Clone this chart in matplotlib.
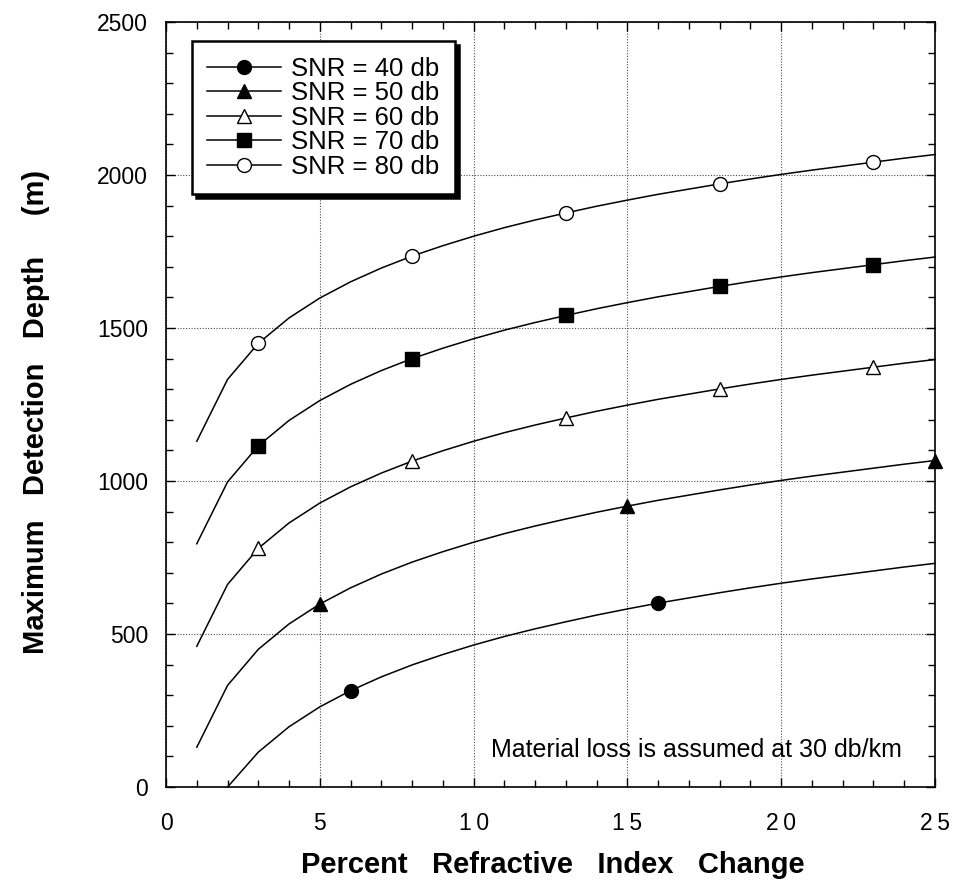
import matplotlib
matplotlib.use("Agg")
import matplotlib.pyplot as plt
from matplotlib.ticker import MultipleLocator

plt.rcParams["font.family"] = ["Liberation Sans", "DejaVu Sans"]

# ── data (depth in m at each whole % step) ─────────────────────────────────────
X_FULL = list(range(1, 26))
X_40 = list(range(2, 26))

SNR_40 = [0, 114, 197, 262, 315, 360, 399, 433, 464, 492, 517, 540, 562,
          582, 601, 618, 635, 651, 666, 680, 693, 706, 719, 731]
SNR_50 = [130, 332, 450, 533, 598, 651, 696, 735, 769, 800, 828, 853, 876,
          898, 918, 937, 954, 971, 987, 1002, 1016, 1029, 1042, 1055, 1067]
SNR_60 = [460, 662, 780, 863, 928, 981, 1026, 1065, 1099, 1130, 1158, 1183,
          1206, 1228, 1248, 1267, 1284, 1301, 1317, 1332, 1346, 1359, 1372,
          1385, 1397]
SNR_70 = [795, 997, 1115, 1198, 1263, 1316, 1361, 1400, 1434, 1465, 1493,
          1518, 1541, 1563, 1583, 1602, 1619, 1636, 1652, 1667, 1681, 1694,
          1707, 1720, 1732]
SNR_80 = [1130, 1332, 1450, 1533, 1598, 1651, 1696, 1735, 1769, 1800, 1828,
          1853, 1876, 1898, 1918, 1937, 1954, 1971, 1987, 2002, 2016, 2029,
          2042, 2055, 2067]

LABELS = ["SNR = 40 db", "SNR = 50 db", "SNR = 60 db", "SNR = 70 db", "SNR = 80 db"]
MARK_AT = [[6, 16], [5, 15, 25], [3, 8, 13, 18, 23], [3, 8, 13, 18, 23],
           [3, 8, 13, 18, 23]]
X_TICKS = [0, 5, 10, 15, 20, 25]
Y_TICKS = [0, 500, 1000, 1500, 2000, 2500]

NOTE = "Material loss is assumed at 30 db/km"


def track(s, sep="\u2009"):
    """spread characters a little, like the original typesetting"""
    return sep.join(s)


fig = plt.figure(figsize=(9.58, 8.84), dpi=100)
ax = fig.add_axes([0.1733, 0.1097, 0.8027, 0.8654])

series = [(X_40, SNR_40, "o", "black"),
          (X_FULL, SNR_50, "^", "black"),
          (X_FULL, SNR_60, "^", "white"),
          (X_FULL, SNR_70, "s", "black"),
          (X_FULL, SNR_80, "o", "white")]

for (xs, ys, mk, fc), lab, marks in zip(series, LABELS, MARK_AT):
    ax.plot(xs, ys, color="black", lw=1.1, marker=mk, ms=10,
            mfc=fc, mec="black", mew=1.0,
            markevery=[xs.index(m) for m in marks],
            label=lab, clip_on=False, zorder=3)

ax.set_xlim(0, 25)
ax.set_ylim(0, 2500)
ax.set_xticks(X_TICKS)
ax.set_xticklabels([track(str(v)) for v in X_TICKS])
ax.set_yticks(Y_TICKS)
ax.set_yticklabels([str(v) for v in Y_TICKS])
ax.xaxis.set_minor_locator(MultipleLocator(1))
ax.yaxis.set_minor_locator(MultipleLocator(100))

ax.tick_params(which="both", direction="in", top=True, right=True,
               color="black", width=1.0)
ax.tick_params(which="major", length=6.5)
ax.tick_params(which="minor", length=5)
ax.tick_params(axis="x", which="major", labelsize=16.5, pad=18)
ax.tick_params(axis="y", which="major", labelsize=16.5, pad=13)
for sp in ax.spines.values():
    sp.set_linewidth(1.2)

ax.grid(True, which="major", color="0.3", lw=0.8, ls=(0, (1, 1.5)))
ax.set_axisbelow(True)

leg = ax.legend(loc="upper left", bbox_to_anchor=(0.0338, 0.975),
                borderaxespad=0, fontsize=18.5, handlelength=2.85,
                handletextpad=0.4, borderpad=0.6, labelspacing=0.02,
                fancybox=False, framealpha=1,
                shadow={"color": "black", "alpha": 1, "ox": 3, "oy": -3})
leg.get_frame().set_edgecolor("black")
leg.get_frame().set_linewidth(1.8)

ax.text(23.93, 98, NOTE, ha="right", va="baseline", fontsize=18)

fig.text(553 / 958, 1 - 873 / 884, "Percent   Refractive   Index   Change",
         ha="center", va="baseline", fontsize=21, fontweight="bold")
fig.text(36 / 958, 1 - 412 / 884, "Maximum   Detection   Depth     (m)",
         ha="center", va="center", rotation=90, fontsize=21, fontweight="bold")

fig.savefig("out.png", dpi=100)
